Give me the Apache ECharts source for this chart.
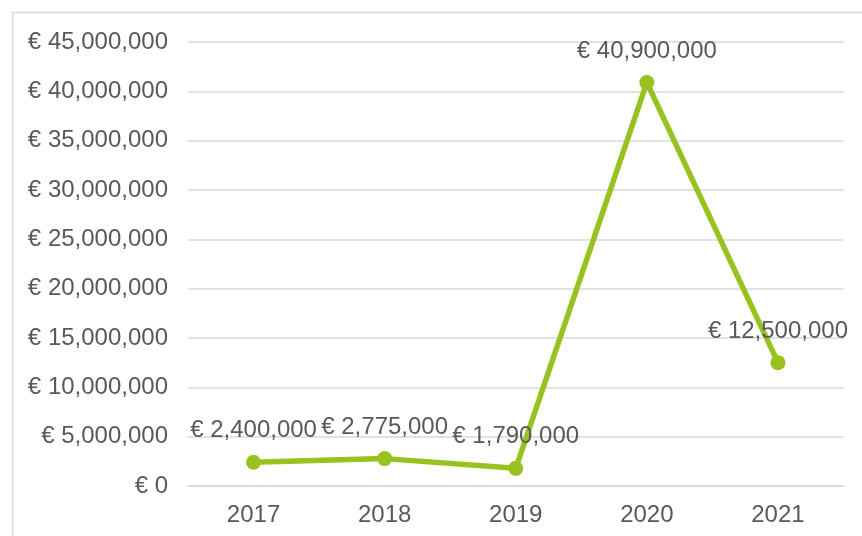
<!DOCTYPE html>
<html>
<head>
<meta charset="utf-8">
<script src="https://cdn.jsdelivr.net/npm/echarts@6/dist/echarts.min.js"></script>
<style>
  html, body { margin: 0; padding: 0; background: #fff; }
  #chart { width: 862px; height: 536px; }
</style>
</head>
<body>
<div id="chart"></div>
<script>
// Yearly amounts in euro
const years = ['2017', '2018', '2019', '2020', '2021'];
const amounts = [2400000, 2775000, 1790000, 40900000, 12500000];

const yMin = 0;
const yMax = 45000000;
const yStep = 5000000;

const textColor = '#595959';
const gridColor = '#d9d9d9';
const lineColor = '#97c21f';
const font = 'Liberation Sans, Arial, sans-serif';

function euro(v) {
  return '€ ' + Math.round(v).toString().replace(/\B(?=(\d{3})+(?!\d))/g, ',');
}

const chart = echarts.init(document.getElementById('chart'), null, { renderer: 'canvas' });

chart.setOption({
  backgroundColor: '#ffffff',
  animation: false,
  graphic: [{
    type: 'rect',
    shape: { x: 12.5, y: 12.5, width: 900, height: 600 },
    style: { fill: 'none', stroke: gridColor, lineWidth: 1.5 },
    silent: true,
    z: -1
  }],
  grid: { left: 188, right: 18.5, top: 42, bottom: 50, containLabel: false },
  xAxis: {
    type: 'category',
    data: years,
    boundaryGap: true,
    axisLine: { show: true, lineStyle: { color: gridColor, width: 1.5 } },
    axisTick: { show: false },
    axisLabel: { color: textColor, fontSize: 24, fontFamily: font, margin: 17 }
  },
  yAxis: {
    type: 'value',
    min: yMin,
    max: yMax,
    interval: yStep,
    axisLine: { show: false },
    axisTick: { show: false },
    splitLine: { lineStyle: { color: gridColor, width: 1.5 } },
    axisLabel: { color: textColor, fontSize: 24, fontFamily: font, margin: 20, formatter: euro }
  },
  series: [{
    type: 'line',
    data: amounts,
    symbol: 'circle',
    symbolSize: 15,
    lineStyle: { color: lineColor, width: 5.5 },
    itemStyle: { color: lineColor },
    label: {
      show: true,
      position: 'top',
      distance: 12,
      color: textColor,
      fontSize: 24,
      fontFamily: font,
      formatter: p => euro(p.value)
    },
    z: 3
  }]
});
</script>
</body>
</html>
